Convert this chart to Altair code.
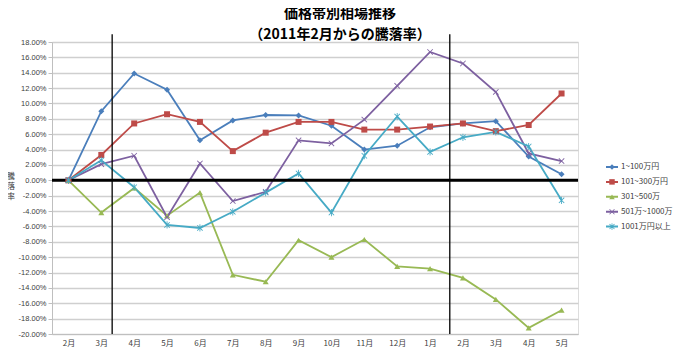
import json
import altair as alt
import pandas as pd

months = ["2月", "3月", "4月", "5月", "6月", "7月", "8月", "9月", "10月", "11月",
          "12月", "1月", "2月", "3月", "4月", "5月"]
series_names = ["1~100万円", "101~300万円", "301~500万", "501万~1000万", "1001万円以上"]
s1 = [0, 9.0, 13.9, 11.8, 5.2, 7.8, 8.5, 8.45, 7.1, 4.0, 4.5, 6.9, 7.4, 7.7, 3.1, 0.8]
s2 = [0, 3.3, 7.4, 8.6, 7.6, 3.8, 6.2, 7.6, 7.6, 6.6, 6.6, 7.0, 7.4, 6.4, 7.2, 11.3]
s3 = [0, -4.2, -1.0, -4.6, -1.6, -12.3, -13.2, -7.8, -10.0, -7.7, -11.2, -11.5, -12.7, -15.5, -19.2, -16.9]
s4 = [0, 2.1, 3.2, -4.8, 2.2, -2.7, -1.5, 5.2, 4.8, 7.9, 12.3, 16.7, 15.2, 11.5, 3.5, 2.5]
s5 = [0, 2.6, -0.9, -5.8, -6.2, -4.1, -1.6, 0.9, -4.2, 3.2, 8.3, 3.7, 5.6, 6.3, 4.4, -2.6]
divider_positions = [1.33, 11.6]

colors = ["#4A7EBB", "#BE4B48", "#98B954", "#7D60A0", "#46AAC5"]
x_shape = ("M-1,-0.8L-0.8,-1L0,-0.2L0.8,-1L1,-0.8L0.2,0L1,0.8L0.8,1L0,0.2L-0.8,1L-1,0.8L-0.2,0Z")
star_shape = (x_shape + "M-0.14,-1.2L0.14,-1.2L0.14,1.2L-0.14,1.2Z")
shapes = ["diamond", "square", "triangle-up", x_shape, star_shape]

rows = []
for name, vals in zip(series_names, [s1, s2, s3, s4, s5]):
    for i, v in enumerate(vals):
        rows.append({"idx": i, "series": name, "value": v})
df = pd.DataFrame(rows)

x_scale = alt.Scale(domain=[-0.5, 15.5], nice=False, zero=False)
y_scale = alt.Scale(domain=[-20, 18], nice=False, zero=False)

x_axis = alt.Axis(values=list(range(16)), labelExpr=json.dumps(months, ensure_ascii=False) + "[datum.value]",
                  grid=False, ticks=False, domainColor="#BFBFBF", labelFontSize=8, labelOverlap=False,
                  labelFont="Noto Sans CJK JP", labelColor="#404040", labelPadding=5, title=None)
y_axis = alt.Axis(values=list(range(-20, 19, 2)),
                  labelExpr="replace(format(datum.value/100, '.2%'), '\u2212', '-')",
                  grid=True, gridColor="#CFCFCF", gridWidth=1.3, tickColor="#BFBFBF", tickSize=4,
                  domainColor="#BFBFBF", labelFontSize=7.5, labelFont="Liberation Sans",
                  labelColor="#404040", labelPadding=2, labelOverlap=False,
                  title=["騰", "落", "率"], titleAngle=0, titleFont="Noto Sans CJK JP",
                  titleFontSize=8, titleFontWeight="normal", titleColor="#404040",
                  titleLineHeight=10, titleAlign="center", titleBaseline="top",
                  titleX=-41.5, titleY=130)
x_enc = alt.X("idx:Q", scale=x_scale, axis=x_axis)
y_enc = alt.Y("value:Q", scale=y_scale, axis=y_axis)

line_legend = alt.Legend(orient="none", legendX=553, legendY=119, symbolType="stroke",
                         symbolSize=144, symbolStrokeWidth=2, title=None, labelFontSize=8,
                         labelFont="Noto Sans CJK JP", labelColor="#404040", clipHeight=12,
                         rowPadding=2.9, padding=0, labelOffset=2)
point_legend = alt.Legend(orient="none", legendX=556, legendY=119, title=None, labelFontSize=8,
                          labelExpr="''", clipHeight=12, rowPadding=2.9, padding=0,
                          symbolSize=30, symbolStrokeWidth=0, labelOffset=2)

zero_line = alt.Chart(pd.DataFrame({"value": [0]})).mark_rule(color="black", strokeWidth=3).encode(y=y_enc)
dividers = alt.Chart(pd.DataFrame({"idx": divider_positions, "value": [19, 19], "value2": [-20, -20]})).mark_rule(
    color="black", strokeWidth=1.3, clip=False).encode(x=x_enc, y=y_enc, y2="value2:Q")

lines = alt.Chart(df).mark_line(strokeWidth=1.8).encode(
    x=x_enc, y=y_enc,
    stroke=alt.Stroke("series:N", sort=series_names, scale=alt.Scale(range=colors), legend=line_legend),
)
points = alt.Chart(df).mark_point(filled=True, opacity=1, size=36, strokeWidth=0).encode(
    x=x_enc, y=y_enc,
    shape=alt.Shape("series:N", scale=alt.Scale(domain=series_names, range=shapes), legend=point_legend),
    color=alt.Color("series:N", scale=alt.Scale(domain=series_names, range=colors), legend=point_legend),
)

chart = alt.layer(lines, dividers, zero_line, points).properties(
    width=526, height=292,
    autosize=alt.AutoSizeParams(type="none"),
    padding={"left": 44, "top": 34, "right": 96, "bottom": 14},
    title=alt.TitleParams(text=["価格帯別相場推移", "（2011年2月からの騰落率）"], fontSize=14,
                          font="Noto Sans CJK JP", fontWeight="bold", anchor="middle", frame="group",
                          dx=25, offset=-8, lineHeight=21, color="black"),
).configure_view(stroke=None).configure(background="white")

chart.save("out.html", embed_options={"renderer": "svg", "actions": False})
